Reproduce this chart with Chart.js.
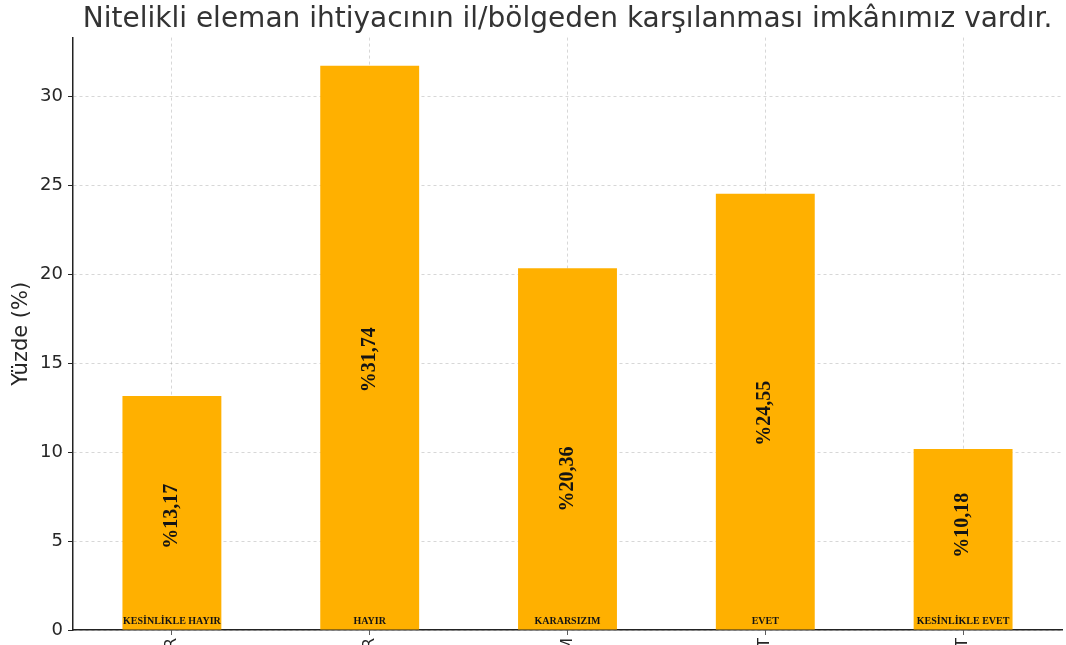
<!DOCTYPE html>
<html lang="tr">
<head>
  <meta charset="UTF-8" />
  <title>Nitelikli eleman</title>
  <script src="https://cdn.jsdelivr.net/npm/chart.js"></script>
  <style>
    html, body {
      margin: 0;
      padding: 0;
      background: #fff;
      overflow: hidden;
    }

    .chart-box {
      position: absolute;
      top: 0;
      left: 0;
      width: 1066px;
      height: 800px;
    }
  </style>
</head>
<body>

  <div class="chart-box">
    <canvas id="answerChart"></canvas>
  </div>

  <script>
    const categories = ['KESİNLİKLE HAYIR', 'HAYIR', 'KARARSIZIM', 'EVET', 'KESİNLİKLE EVET'];
    const percents = [13.17, 31.74, 20.36, 24.55, 10.18];
    const percentLabels = ['%13,17', '%31,74', '%20,36', '%24,55', '%10,18'];
    // where each value label sits, in axis units
    const labelAt = [6.4, 15.2, 8.5, 12.2, 5.9];
    const yTicks = [0, 5, 10, 15, 20, 25, 30];

    const gridColor = 'rgba(150, 150, 150, 0.38)';
    const inkColor = '#262626';

    const barLabels = {
      id: 'barLabels',
      afterDatasetsDraw(chart) {
        const ctx = chart.ctx;
        const meta = chart.getDatasetMeta(0);
        const y = chart.scales.y;
        ctx.save();
        ctx.fillStyle = '#141414';
        meta.data.forEach((bar, i) => {
          // rotated value text
          ctx.save();
          ctx.translate(bar.x, y.getPixelForValue(labelAt[i]));
          ctx.rotate(-Math.PI / 2);
          ctx.font = 'bold 20px "Liberation Serif", serif';
          ctx.textAlign = 'center';
          ctx.textBaseline = 'middle';
          ctx.fillText(percentLabels[i], 0, 0);
          ctx.restore();

          // small category name at the foot of the bar
          ctx.font = 'bold 10px "Liberation Serif", serif';
          ctx.textAlign = 'center';
          ctx.textBaseline = 'alphabetic';
          ctx.fillText(categories[i], bar.x, y.getPixelForValue(0) - 6);
        });
        ctx.restore();
      }
    };

    new Chart(document.getElementById('answerChart'), {
      type: 'bar',
      data: {
        labels: categories,
        datasets: [{
          data: percents,
          backgroundColor: '#FFB000',
          borderWidth: 0,
          barPercentage: 0.5,
          categoryPercentage: 1
        }]
      },
      options: {
        responsive: true,
        maintainAspectRatio: false,
        animation: false,
        layout: { padding: { left: 0, right: 4, top: 0, bottom: 0 } },
        plugins: {
          legend: { display: false },
          tooltip: { enabled: false },
          title: {
            display: true,
            text: 'Nitelikli eleman ihtiyacının il/bölgeden karşılanması imkânımız vardır.',
            fullSize: false,
            color: '#333',
            font: { family: '"DejaVu Sans", sans-serif', size: 28, weight: 'normal' },
            padding: { top: 3, bottom: 1 }
          }
        },
        scales: {
          x: {
            type: 'category',
            offset: true,
            z: 1,
            afterFit: s => { s.height = 170; },
            grid: {
              color: gridColor,
              offset: false,
              tickLength: 5,
              tickColor: inkColor,
              tickBorderDash: [1, 0]
            },
            border: { display: true, color: '#222', width: 1.5, dash: [3, 3] },
            ticks: {
              autoSkip: false,
              minRotation: 90,
              maxRotation: 90,
              padding: 3,
              color: inkColor,
              font: { family: '"DejaVu Sans", sans-serif', size: 16 }
            }
          },
          y: {
            min: 0,
            max: 33.33,
            z: 1,
            afterFit: s => { s.width = 73; },
            afterBuildTicks: s => { s.ticks = yTicks.map(v => ({ value: v })); },
            grid: {
              color: gridColor,
              tickLength: 5,
              tickColor: inkColor,
              tickBorderDash: [1, 0]
            },
            border: { display: true, color: '#222', width: 1.5, dash: [3, 3] },
            ticks: {
              padding: 5,
              color: inkColor,
              font: { family: '"DejaVu Sans", sans-serif', size: 18 }
            },
            title: {
              display: true,
              text: 'Yüzde (%)',
              color: inkColor,
              padding: { top: 9, bottom: 0 },
              font: { family: '"DejaVu Sans", sans-serif', size: 21 }
            }
          }
        }
      },
      plugins: [barLabels]
    });
  </script>

</body>
</html>
